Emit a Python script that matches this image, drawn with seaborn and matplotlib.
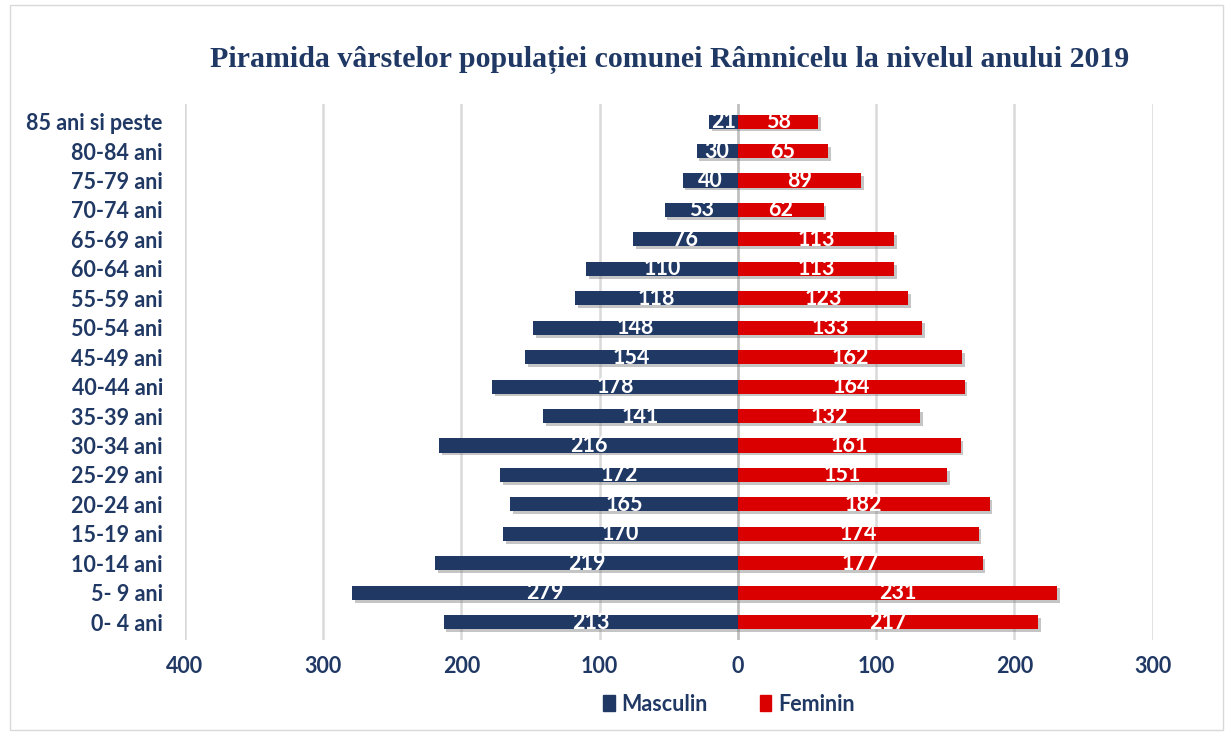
import pandas as pd
import numpy as np
import matplotlib
matplotlib.use('Agg')
import matplotlib.pyplot as plt
import matplotlib.patheffects as pe
from matplotlib.patches import Rectangle, Patch
import seaborn as sns

# data, top row first
age_groups = ['85 ani si peste', '80-84 ani', '75-79 ani', '70-74 ani', '65-69 ani',
              '60-64 ani', '55-59 ani', '50-54 ani', '45-49 ani', '40-44 ani',
              '35-39 ani', '30-34 ani', '25-29 ani', '20-24 ani', '15-19 ani',
              '10-14 ani', '5- 9 ani', '0- 4 ani']
masculin = [21, 30, 40, 53, 76, 110, 118, 148, 154, 178, 141, 216, 172, 165, 170, 219, 279, 213]
feminin = [58, 65, 89, 62, 113, 113, 123, 133, 162, 164, 132, 161, 151, 182, 174, 177, 231, 217]
x_ticks = [-400, -300, -200, -100, 0, 100, 200, 300]

navy = '#203864'
red = '#DA0000'

df = pd.concat([
    pd.DataFrame({'Grupa': age_groups, 'Valoare': [-v for v in masculin], 'Sex': 'Masculin'}),
    pd.DataFrame({'Grupa': age_groups, 'Valoare': feminin, 'Sex': 'Feminin'}),
])

sns.set_style('white')
plt.rcParams['font.family'] = ['Lato', 'DejaVu Sans']

fig = plt.figure(figsize=(12.25, 7.32), dpi=100)
ax = fig.add_axes([0.151, 0.126, 0.790, 0.732])

sns.barplot(data=df, y='Grupa', x='Valoare', hue='Sex', order=age_groups,
            palette={'Masculin': navy, 'Feminin': red}, dodge=False, saturation=1,
            width=0.48, orient='h', ax=ax, legend=False)

shadow = [pe.SimplePatchShadow(offset=(2, -2), shadow_rgbFace='#7f7f7f', alpha=0.45), pe.Normal()]
for p in ax.patches:
    p.set_linewidth(0)
    p.set_path_effects(shadow)

for c in ax.containers:
    vals = [abs(int(round(b.get_width()))) for b in c]
    ax.bar_label(c, labels=[str(v) for v in vals], label_type='center',
                 color='white', fontsize=15.5, fontweight='bold')

ax.set_xlim(-400, 300)
ax.set_ylim(len(age_groups) - 0.4, -0.6)
ax.set_xticks(x_ticks)
ax.set_xticklabels([str(abs(t)) for t in x_ticks])
for t in x_ticks:
    ax.axvline(t, color='#d9d9d9', lw=1.8, zorder=0)
ax.axvline(0, color='#bfbfbf', lw=1.8, zorder=0)

ax.tick_params(axis='both', length=0, labelsize=15.5, labelcolor=navy)
ax.tick_params(axis='y', pad=16)
ax.tick_params(axis='x', pad=12)
for lab in ax.get_xticklabels() + ax.get_yticklabels():
    lab.set_fontweight('bold')
ax.set_xlabel('')
ax.set_ylabel('')
for s in ax.spines.values():
    s.set_visible(False)

fig.text(0.547, 0.918, 'Piramida vârstelor populației comunei Râmnicelu la nivelul anului 2019',
         ha='center', va='center', fontsize=21.5, fontweight='bold', color=navy,
         family=['Liberation Serif', 'DejaVu Serif'])

handles = [Patch(color=navy, label='Masculin'), Patch(color=red, label='Feminin')]
leg = fig.legend(handles=handles, loc='center', bbox_to_anchor=(0.595, 0.038), ncol=2,
                 frameon=False, fontsize=15.5, handlelength=0.55, handleheight=0.8,
                 handletextpad=0.3, columnspacing=2.4)
for t in leg.get_texts():
    t.set_color(navy)
    t.set_fontweight('bold')

fig.patches.append(Rectangle((0.008, 0.003), 0.99, 0.99, transform=fig.transFigure,
                             fill=False, edgecolor='#d9d9d9', lw=1))

fig.savefig('out.png', dpi=100)
